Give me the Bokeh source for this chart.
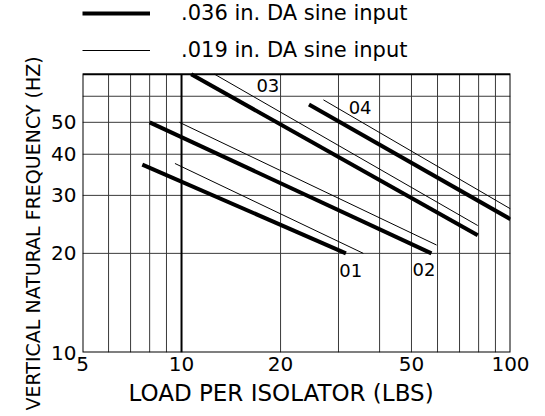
from bokeh.plotting import figure
from bokeh.models import (Range1d, FixedTicker, BasicTickFormatter, Legend, LegendItem,
                          ColumnDataSource, Title)
from bokeh.core.properties import value
from bokeh.embed import file_html
from bokeh.resources import INLINE

# ---- data ----
thick_x = [[7.6, 31.6], [8.0, 57.5], [10.7, 79.5], [24.4, 100]]
thick_y = [[37.2, 20.0], [50.0, 20.0], [70.0, 22.7], [56.6, 25.4]]
thin_x = [[9.55, 35.7], [9.85, 59.6], [12.6, 79.5], [27.0, 100]]
thin_y = [[37.5, 20.0], [50.0, 21.2], [70.0, 24.3], [58.5, 27.3]]

curve_labels = ["01", "02", "03", "04"]
label_x = [32.7, 54.6, 18.3, 34.9]
label_y = [17.8, 17.9, 64.7, 55.4]

x_limits = [5, 100]
y_limits = [10, 70]
x_tick_labels = [5, 10, 20, 50, 100]
y_tick_labels = [10, 20, 30, 40, 50]
x_grid = [6, 7, 8, 9, 20, 30, 40, 50, 60, 70, 80, 90]
y_grid = [20, 30, 40, 50, 60]
x_heavy_grid = [10]

legend_thick = ".036 in. DA sine input"
legend_thin = ".019 in. DA sine input"
x_title = "LOAD PER ISOLATOR (LBS)"
y_title = "VERTICAL NATURAL FREQUENCY (HZ)"

FONT = "DejaVu Sans"
GRID_COLOR = "#3a3a3a"

# The frame runs to the top of the page so that the legend (drawn in the frame)
# sits above the chart box, which is drawn from x_limits / y_limits.
p = figure(width=545, height=414, x_axis_type="log", y_axis_type="log",
           x_range=Range1d(x_limits[0], x_limits[1]), y_range=Range1d(y_limits[0], 117.2),
           output_backend="svg", toolbar_location=None,
           min_border_left=82, min_border_right=35, min_border_top=0, min_border_bottom=62)

p.background_fill_color = "white"
p.border_fill_color = "white"
p.outline_line_color = None
p.xgrid.visible = False
p.ygrid.visible = False

n_v = len(x_grid)
p.segment(x0=x_grid, y0=[y_limits[0]] * n_v, x1=x_grid, y1=[y_limits[1]] * n_v,
          line_color=GRID_COLOR, line_width=1)
n_h = len(y_grid)
p.segment(x0=[x_limits[0]] * n_h, y0=y_grid, x1=[x_limits[1]] * n_h, y1=y_grid,
          line_color=GRID_COLOR, line_width=1)
n_k = len(x_heavy_grid)
p.segment(x0=x_heavy_grid, y0=[y_limits[0]] * n_k, x1=x_heavy_grid, y1=[y_limits[1]] * n_k,
          line_color="black", line_width=2)
p.quad(left=[x_limits[0]], right=[x_limits[1]], bottom=[y_limits[0]], top=[y_limits[1]],
       fill_color=None, line_color="black", line_width=2)

# axes (tick labels only; titles are added as side titles so they can be offset)
p.xaxis.ticker = FixedTicker(ticks=x_tick_labels)
p.yaxis.ticker = FixedTicker(ticks=y_tick_labels)
for ax in (p.xaxis, p.yaxis):
    ax.formatter = BasicTickFormatter()
    ax.axis_line_color = None
    ax.major_tick_line_color = None
    ax.minor_tick_line_color = None
    ax.major_tick_out = 0
    ax.minor_tick_out = 0
    ax.major_label_text_font = FONT
    ax.major_label_text_font_size = "20px"
    ax.major_label_text_color = "black"
p.xaxis.major_label_standoff = 4
p.yaxis.major_label_standoff = 6

xt = Title(text=x_title, align="left", offset=46, standoff=8,
           text_font=FONT, text_font_size="23px", text_font_style="normal",
           text_color="black")
p.add_layout(xt, "below")

yt = Title(text=y_title, align="left", offset=-58, standoff=10,
           text_font=FONT, text_font_size="19px", text_font_style="normal",
           text_color="black")
p.add_layout(yt, "left")

# curves
r_thin = p.multi_line(xs=thin_x, ys=thin_y, line_color="black", line_width=1)
r_thick = p.multi_line(xs=thick_x, ys=thick_y, line_color="black", line_width=4)

src = ColumnDataSource(dict(x=label_x, y=label_y, t=curve_labels))
p.text(x="x", y="y", text="t", source=src, text_font=value(FONT), text_font_size="18px",
       text_align="center", text_baseline="middle", text_color="black")

legend = Legend(items=[LegendItem(label=legend_thick, renderers=[r_thick]),
                       LegendItem(label=legend_thin, renderers=[r_thin])],
                location=(0, 290), orientation="vertical",
                padding=0, margin=0, spacing=13,
                glyph_width=68, glyph_height=20, label_height=20,
                label_standoff=31,
                label_text_font=FONT, label_text_font_size="21px",
                label_text_color="black", label_text_baseline="middle",
                border_line_color=None, background_fill_alpha=0)
p.add_layout(legend, "center")

open("out.html", "w").write(file_html(p, INLINE))
